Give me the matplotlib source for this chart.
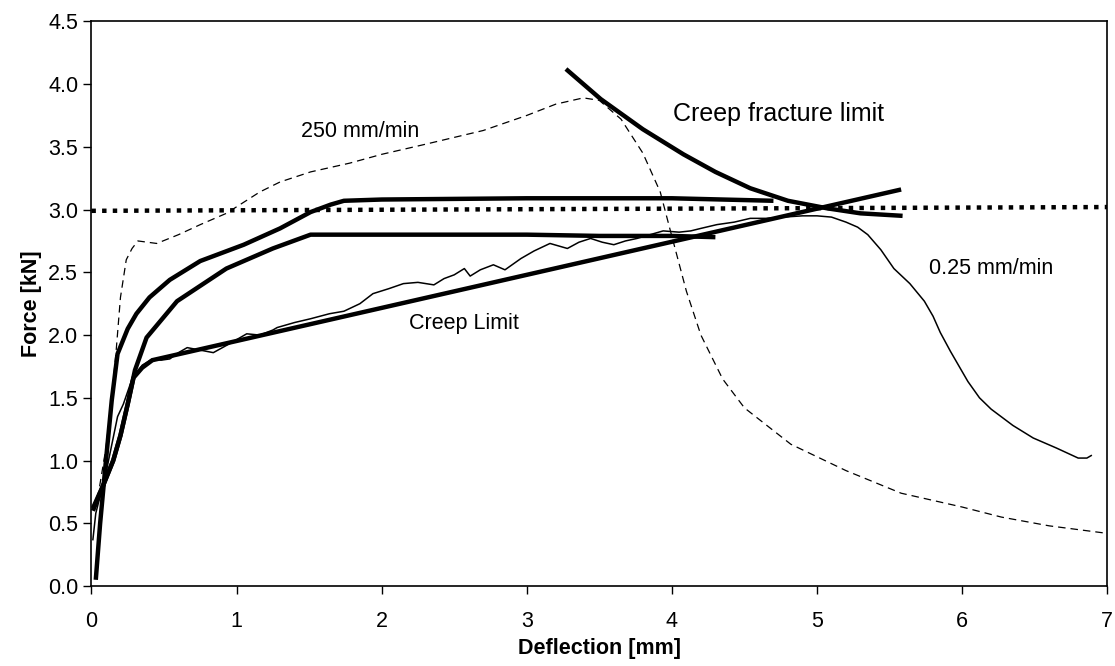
import numpy as np
import matplotlib
matplotlib.use('Agg')
import matplotlib.pyplot as plt

plt.rcParams['font.family'] = ['Liberation Sans', 'DejaVu Sans']

# 250 mm/min test (thin dashed)
fast_x = [0.02, 0.05, 0.1, 0.14, 0.17, 0.2, 0.24, 0.28, 0.32, 0.45, 0.6, 0.75, 0.93, 1.16, 1.3, 1.51,
          1.78, 2.0, 2.3, 2.7, 3.0, 3.2, 3.39, 3.5, 3.65, 3.8, 3.92, 3.99, 4.1, 4.2, 4.35, 4.5,
          4.82, 5.2, 5.58, 6.0, 6.27, 6.6, 7.0]
fast_y = [0.6, 0.75, 1.1, 1.5, 1.87, 2.3, 2.6, 2.69, 2.75, 2.73, 2.8, 2.88, 2.97, 3.14, 3.22, 3.3,
          3.37, 3.44, 3.52, 3.63, 3.75, 3.84, 3.89, 3.87, 3.72, 3.45, 3.14, 2.83, 2.35, 2.0, 1.65, 1.42,
          1.13, 0.92, 0.74, 0.63, 0.55, 0.48, 0.42]

# 0.25 mm/min test (thin stepped)
slow_x = [0.01, 0.03, 0.1, 0.18, 0.22, 0.28, 0.35, 0.42, 0.48, 0.54, 0.6, 0.66, 0.75, 0.84, 0.95,
          1.07, 1.16, 1.25, 1.28, 1.4, 1.51, 1.64, 1.74, 1.85, 1.94, 2.05, 2.15, 2.25, 2.36, 2.43,
          2.5, 2.57, 2.61, 2.68, 2.77, 2.85, 2.96, 3.05, 3.16, 3.28, 3.36, 3.44, 3.52, 3.6, 3.68,
          3.76, 3.85, 3.94, 4.05, 4.13, 4.2, 4.31, 4.43, 4.54, 4.65, 4.77, 4.9, 5.0, 5.1, 5.2,
          5.28, 5.35, 5.44, 5.53, 5.64, 5.74, 5.8, 5.85, 5.92, 6.04, 6.12, 6.2, 6.35, 6.49, 6.65,
          6.8, 6.86, 6.89]
slow_y = [0.37, 0.58, 0.9, 1.35, 1.45, 1.65, 1.76, 1.81, 1.8, 1.81, 1.86, 1.9, 1.88, 1.86, 1.93,
          2.01, 2.0, 2.04, 2.06, 2.1, 2.13, 2.17, 2.19, 2.25, 2.33, 2.37, 2.41, 2.42, 2.4, 2.45,
          2.48, 2.53, 2.47, 2.52, 2.56, 2.52, 2.61, 2.67, 2.73, 2.69, 2.74, 2.77, 2.74, 2.72, 2.75,
          2.77, 2.8, 2.83, 2.82, 2.83, 2.85, 2.88, 2.9, 2.93, 2.93, 2.94, 2.95, 2.95, 2.94, 2.9,
          2.86, 2.8, 2.68, 2.53, 2.41, 2.27, 2.15, 2.02, 1.87, 1.63, 1.5, 1.41, 1.28, 1.18, 1.1,
          1.02, 1.02, 1.04]

# thick fitted curves
upper_x = [0.03, 0.06, 0.1, 0.14, 0.18, 0.25, 0.31, 0.4, 0.54, 0.75, 1.05, 1.3, 1.51, 1.65, 1.74,
           2.0, 3.0, 4.0, 4.7]
upper_y = [0.05, 0.5, 1.0, 1.48, 1.85, 2.05, 2.17, 2.3, 2.44, 2.59, 2.72, 2.85, 2.98, 3.04, 3.07,
           3.08, 3.09, 3.09, 3.07]

middle_x = [0.01, 0.08, 0.15, 0.2, 0.25, 0.3, 0.38, 0.59, 0.93, 1.25, 1.51, 2.0, 3.0, 3.5, 4.0, 4.3]
middle_y = [0.6, 0.8, 1.0, 1.2, 1.45, 1.72, 1.98, 2.27, 2.53, 2.69, 2.8, 2.8, 2.8, 2.79, 2.79, 2.78]

creep_x = [0.01, 0.08, 0.15, 0.2, 0.25, 0.29, 0.35, 0.42, 5.58]
creep_y = [0.62, 0.8, 1.0, 1.2, 1.45, 1.66, 1.74, 1.8, 3.16]

fracture_x = [3.27, 3.51, 3.8, 4.08, 4.3, 4.54, 4.8, 5.07, 5.3, 5.59]
fracture_y = [4.12, 3.88, 3.64, 3.44, 3.3, 3.17, 3.07, 3.01, 2.97, 2.95]

level_x = [0, 7]
level_y = [2.99, 3.02]

fig = plt.figure(figsize=(11.15, 6.66), dpi=100)
ax = fig.add_axes([0.082, 0.12, 0.911, 0.848])

ax.plot(fast_x, fast_y, color='black', lw=0.9, dashes=(6, 4))
ax.plot(slow_x, slow_y, color='black', lw=1.1)
ax.plot(upper_x, upper_y, color='black', lw=3.2, solid_capstyle='butt')
ax.plot(middle_x, middle_y, color='black', lw=3.2, solid_capstyle='butt')
ax.plot(creep_x, creep_y, color='black', lw=3.2, solid_capstyle='butt')
ax.plot(fracture_x, fracture_y, color='black', lw=3.2, solid_capstyle='butt')
ax.plot(level_x, level_y, color='black', lw=3.2, dashes=(1, 1.4), dash_capstyle='butt')

ax.text(1.445, 3.62, '250 mm/min', fontsize=15.5, va='center', ha='left')
ax.text(4.01, 3.76, 'Creep fracture limit', fontsize=18, va='center', ha='left')
ax.text(2.19, 2.09, 'Creep Limit', fontsize=15.5, va='center', ha='left')
ax.text(5.77, 2.53, '0.25 mm/min', fontsize=15.5, va='center', ha='left')

ax.set_xlim(0, 7)
ax.set_ylim(0, 4.5)
ax.set_xticks(range(0, 8))
ax.set_yticks(np.arange(0, 4.51, 0.5))
ax.set_yticklabels([f'{v:.1f}' for v in np.arange(0, 4.51, 0.5)])
ax.tick_params(direction='out', length=6, width=1, labelsize=15.5, top=False, right=False)
ax.tick_params(axis='x', pad=12)
for s in ax.spines.values():
    s.set_linewidth(1.2)

ax.set_xlabel('Deflection [mm]', fontsize=15.5, fontweight='bold', labelpad=4)
ax.set_ylabel('Force [kN]', fontsize=15.5, fontweight='bold', labelpad=4)

fig.savefig('out.png', dpi=100)
